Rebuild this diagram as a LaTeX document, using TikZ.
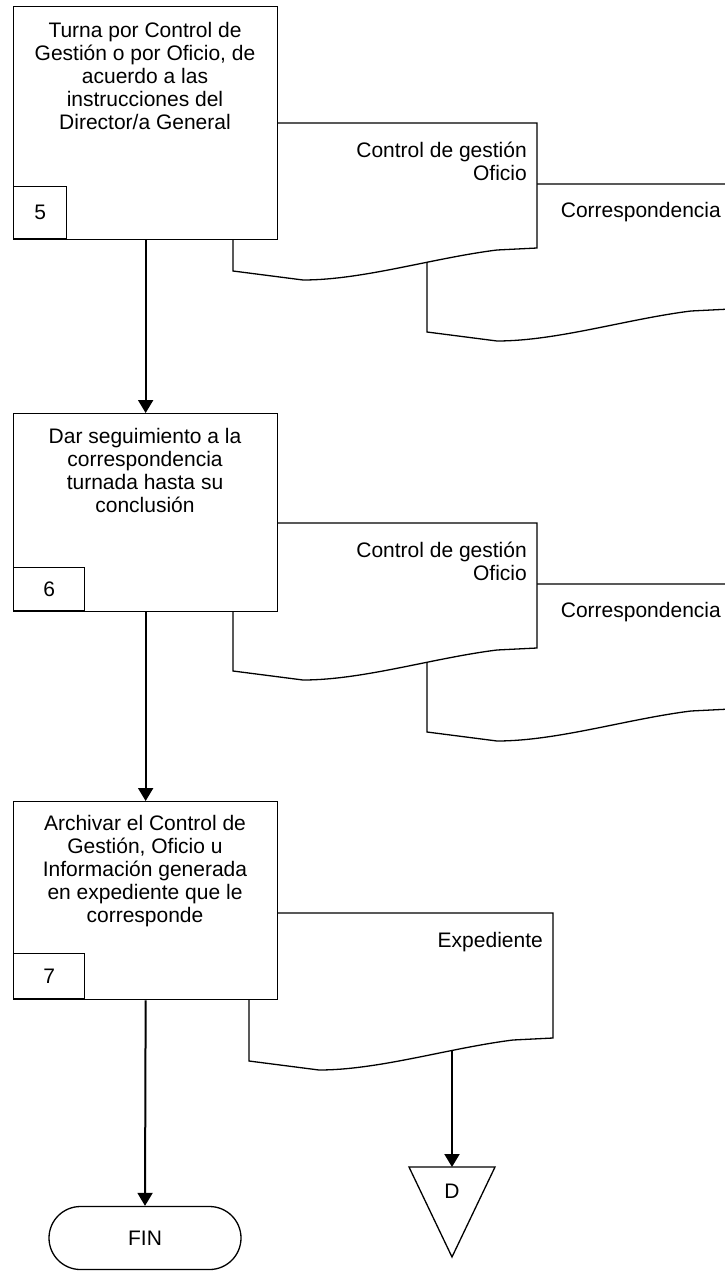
\documentclass[tikz,border=0pt]{standalone}
\usepackage{fontspec}
\setmainfont{Liberation Sans}
\usetikzlibrary{arrows.meta,shapes.misc}
\tikzset{
  docline/.style={draw=black,line width=1.3pt,fill=white,line join=miter},
  docshape/.pic={
    \path[docline] (0,0) -- (304,0) -- (304,125) -- (264,127)
      .. controls (200,135) and (130,157) .. (70,157) -- (0,148) -- cycle;
    \coordinate (-out) at (203,137.5);
  },
  procbox/.style={draw=black,line width=1.3pt,fill=white,inner sep=0pt,anchor=north west},
  numbox/.style={draw=black,line width=1.3pt,fill=white,inner sep=0pt,anchor=south west,font=\fontsize{21}{23}\selectfont},
  boxtext/.style={align=center,anchor=base,inner sep=0pt,font=\fontsize{21}{23}\selectfont},
  doctext/.style={align=right,anchor=base east,inner sep=0pt,font=\fontsize{21}{23}\selectfont},
  flowarrow/.style={draw=black,line width=2pt,-{Triangle[width=15pt,length=13pt]}},
  termbox/.style={draw=black,line width=1.3pt,fill=white,rounded rectangle,minimum width=192pt,minimum height=63pt,inner sep=0pt,font=\fontsize{21}{23}\selectfont},
}
\begin{document}
\begin{tikzpicture}[x=1pt,y=-1pt]
\clip (0,0) rectangle (725,1271);
\fill[white] (0,0) rectangle (725,1271);
% group 1
\pic (d2) at (427,184) {docshape};
\pic (d1) at (233,123) {docshape};
\node[procbox,minimum width=264pt,minimum height=233pt] (b1) at (13,6) {};
\node[numbox,minimum width=53pt,minimum height=52pt] (n5) at (13,239) {5};
\node[boxtext] (t1) at (145,129) {Turna por Control de\\Gestión o por Oficio, de\\acuerdo a las\\instrucciones del\\Director/a General};
\node[doctext] (l1) at (527,180) {Control de gestión\\Oficio};
\node[doctext] (l2) at (721,217) {Correspondencia};
% group 2
\pic (d4) at (427,584) {docshape};
\pic (d3) at (233,523) {docshape};
\node[procbox,minimum width=264pt,minimum height=198pt] (b2) at (13,413) {};
\node[numbox,minimum width=71pt,minimum height=43pt] (n6) at (13,611) {6};
\node[boxtext] (t2) at (145,512) {Dar seguimiento a la\\correspondencia\\turnada hasta su\\conclusión};
\node[doctext] (l3) at (527,580) {Control de gestión\\Oficio};
\node[doctext] (l4) at (721,617) {Correspondencia};
% group 3
\pic (d5) at (249,913) {docshape};
\node[procbox,minimum width=264pt,minimum height=198pt] (b3) at (13,801) {};
\node[numbox,minimum width=71pt,minimum height=45pt] (n7) at (13,999) {7};
\node[boxtext] (t3) at (145,922) {Archivar el Control de\\Gestión, Oficio u\\Información generada\\en expediente que le\\corresponde};
\node[doctext] (l5) at (543,947) {Expediente};
% terminals
\node[termbox] (fin) at (145,1238) {FIN};
\coordinate (tri-top) at (452,1167);
\draw[line width=1.3pt,fill=white,line join=miter] (409,1167) -- (495,1167) -- (452,1257) -- cycle;
\node[font=\fontsize{21}{23}\selectfont,inner sep=0pt] (dlab) at (452,1191) {D};
% connectors
\draw[flowarrow] (b1.south) -- (b2.north);
\draw[flowarrow] (b2.south) -- (b3.north);
\draw[flowarrow] (b3.south) -- (fin.north);
\draw[flowarrow] (d5-out) -- (tri-top);
\end{tikzpicture}
\end{document}
